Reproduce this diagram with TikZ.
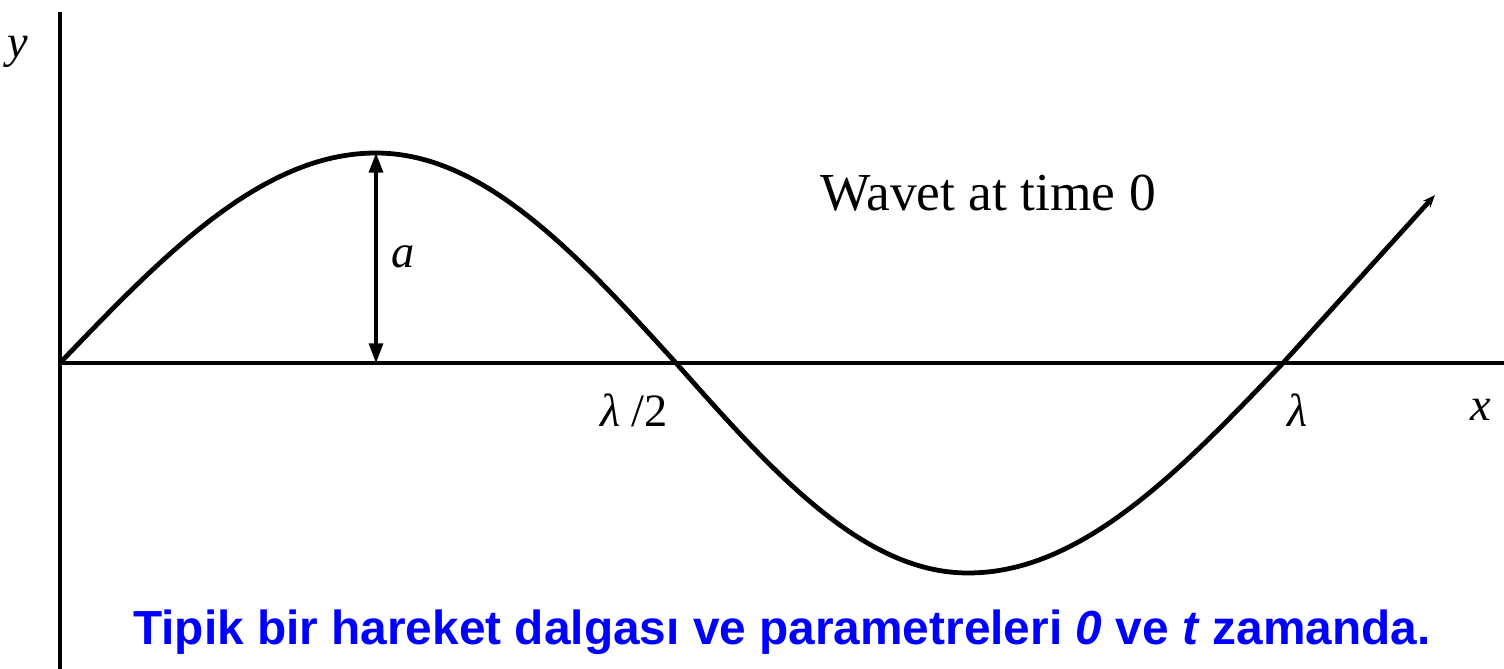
\documentclass[tikz,border=0pt]{standalone}
\usepackage{fontspec}
\setmainfont{Liberation Serif}
\setsansfont{Liberation Sans}
\usetikzlibrary{arrows.meta}
\definecolor{capblue}{RGB}{0,0,255}
\tikzset{
  axisline/.style={line width=2.8pt, black},
  waveline/.style={line width=3.4pt, black, line join=round},
  lbl/.style={font=\fontsize{33}{38}\selectfont\itshape, inner sep=0pt},
  titletext/.style={font=\fontsize{38}{44}\selectfont, inner sep=0pt},
  captiontext/.style={font=\sffamily\bfseries\fontsize{34}{40}\selectfont, text=capblue, inner sep=0pt},
  amparrow/.style={line width=2.2pt, {Triangle[length=14pt,width=10pt]}-{Triangle[length=14pt,width=10pt]}}
}
\begin{document}
\begin{tikzpicture}[x=0.025cm, y=-0.025cm]
\useasboundingbox (0,0) rectangle (1504,669);
\coordinate (O) at (60,363);
\coordinate (ytop) at (60,12);
\coordinate (ybot) at (60,669);
\coordinate (xend) at (1504,363);
\coordinate (peak) at (376,153);
\coordinate (foot) at (376,363);
\coordinate (wend) at (1435,195);
\draw[axisline] (ybot) -- (ytop);
\draw[axisline] (O) -- (xend);
\draw[waveline, -{Stealth[length=9pt,width=7pt]}]
  plot[domain=60:376, samples=60] (\x, {363-210*sin(90/316*(\x-60))})
  -- plot[domain=376:676, samples=60] (\x, {363-210*cos(90/300*(\x-376))})
  -- plot[domain=676:968, samples=60] (\x, {363+210*sin(90/292*(\x-676))})
  -- plot[domain=968:1283, samples=60] (\x, {363+210*cos(90/315*(\x-968))})
  -- (wend);
\draw[amparrow] (foot) -- (peak);
\node[lbl] (ylab) at (18,52) {y};
\node[lbl] (alab) at (403,257) {a};
\node[lbl, font=\fontsize{33}{38}\selectfont] (half) at (634,410) {\textit{λ} /2};
\node[lbl] (lam) at (1298,410) {λ};
\node[lbl] (xlab) at (1481,410) {x};
\node[titletext] (title) at (988,193) {Wavet at time 0};
\node[captiontext] (cap) at (782,632) {Tipik bir hareket dalgası ve parametreleri \textit{0} ve \textit{t} zamanda.};
\end{tikzpicture}
\end{document}
